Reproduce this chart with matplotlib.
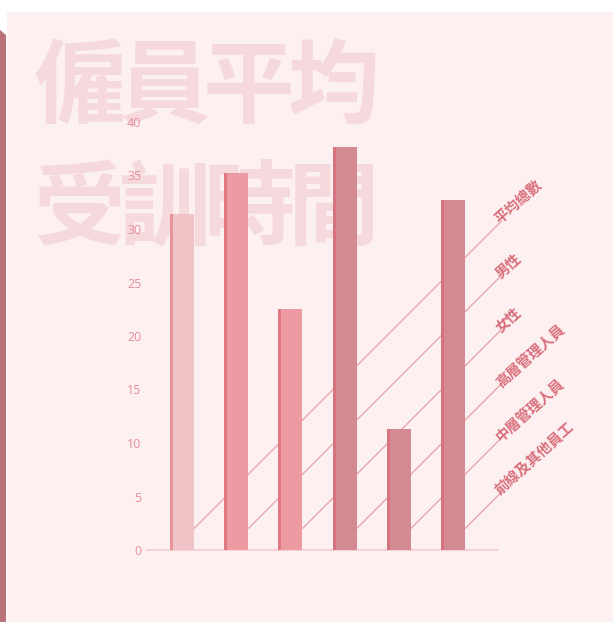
import matplotlib
matplotlib.use("Agg")
import matplotlib.pyplot as plt
from matplotlib.patches import Rectangle, Polygon
import numpy as np

# ---- data ----
categories = ["平均總數", "男性", "女性", "高層管理人員", "中層管理人員", "前線及其他員工"]
values = [31.4, 35.2, 22.5, 37.7, 11.3, 32.7]
bar_colors = ["#F0C4C7", "#EE9AA2", "#EE9AA2", "#D38A93", "#D38A93", "#D38A93"]
edge_colors = ["#E8939B", "#E07882", "#E07882", "#D7737E", "#D7737E", "#D7737E"]
title_lines = ["僱員平均", "受訓時間"]
yticks = [0, 5, 10, 15, 20, 25, 30, 35, 40]

W, H = 613, 622
fig = plt.figure(figsize=(W / 100, H / 100), dpi=100, facecolor="white")

def fx(px):
    return px / W

def fy(py):
    return 1 - py / H

# panel background
fig.patches.append(Rectangle((fx(7), 0), 1 - fx(7), fy(12), transform=fig.transFigure,
                             facecolor="#FCF0F1", edgecolor="none", zorder=-5))
# left dark strip
fig.patches.append(Polygon([(0, fy(30)), (fx(6), fy(35)), (fx(6), 0), (0, 0)],
                           closed=True, transform=fig.transFigure,
                           facecolor="#B87277", edgecolor="none", zorder=-4))

# watermark title
cjk = ["Noto Sans CJK TC", "DejaVu Sans"]
line_centers_y = [89, 211]
x0, step = 79, 85
for li, line in enumerate(title_lines):
    for ci, ch in enumerate(line):
        fig.text(fx(x0 + ci * step), fy(line_centers_y[li]), ch, family=cjk,
                 fontsize=66, fontweight="black", color="#F5D9DC",
                 ha="center", va="center", zorder=-3)

# axes
left_px, right_px, top_px, bot_px = 147, 498, 122, 550
ax = fig.add_axes([fx(left_px), fy(bot_px), fx(right_px - left_px), (bot_px - top_px) / H])
ax.set_facecolor("none")
ax.patch.set_alpha(0)
spacing_px = 54.2
w = 24 / spacing_px
x = np.arange(len(categories))
ax.set_xlim(-(182 - left_px) / spacing_px, 5 + (right_px - 453) / spacing_px)
ax.set_ylim(0, 40)

ax.bar(x, values, width=w, color=bar_colors, zorder=3)
ax.bar(x - w / 2, values, width=3 / spacing_px, align="edge", color=edge_colors, zorder=4)

for s in ["top", "right", "left"]:
    ax.spines[s].set_visible(False)
ax.spines["bottom"].set_color("#F5CDD1")
ax.spines["bottom"].set_linewidth(1.2)
ax.set_xticks([])
ax.set_yticks(yticks)
ax.set_yticklabels([str(t) for t in yticks])
ax.tick_params(axis="y", length=0, pad=4, labelcolor="#E58F98", labelsize=9)
for lab in ax.get_yticklabels():
    lab.set_family(["Open Sans", "DejaVu Sans"])

# leader lines at 45 degrees (pixel space) and rotated labels
trans = ax.transData
inv = trans.inverted()
xe_pix = trans.transform((5 + w / 2, 0))[0] + 37
for i, cat in enumerate(categories):
    xs, ys = trans.transform((i + w / 2, 2.0))
    ye = ys + (xe_pix - xs)
    (dx0, dy0) = inv.transform((xs, ys))
    (dx1, dy1) = inv.transform((xe_pix, ye))
    ax.plot([dx0, dx1], [dy0, dy1], color="#E8A0A8", lw=0.9, zorder=1,
            clip_on=False, solid_capstyle="butt")
    tx, ty = inv.transform((xe_pix - 4, ye - 1))
    ax.text(tx, ty, cat, family=cjk, fontsize=10.4, fontweight="bold",
            color="#D9707C", rotation=42, rotation_mode="anchor",
            ha="left", va="center", clip_on=False, zorder=5)

fig.savefig("out.png", dpi=100, facecolor="white")
